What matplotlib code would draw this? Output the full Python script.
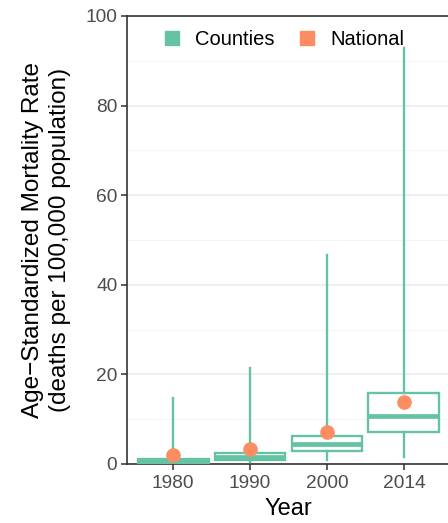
import matplotlib
matplotlib.use("Agg")
import matplotlib.pyplot as plt
from matplotlib.lines import Line2D

plt.rcParams['font.family'] = ['Liberation Sans', 'DejaVu Sans']

years = ["1980", "1990", "2000", "2014"]
whislo = [0.2, 0.5, 0.9, 1.6]
q1 = [0.3, 0.9, 2.9, 7.1]
med = [0.7, 1.6, 4.5, 10.7]
q3 = [1.2, 2.5, 6.2, 15.8]
whishi = [14.7, 21.4, 46.6, 92.9]
national = [2.0, 3.3, 7.1, 13.8]

green = "#66c2a5"
orange = "#fc8d62"

fig = plt.figure(figsize=(4.48, 5.23), dpi=100)
ax = fig.add_axes([127/448, 59/523, 323/448, 448/523])

stats = []
for i, y in enumerate(years):
    stats.append(dict(label=y, whislo=whislo[i], q1=q1[i], med=med[i], q3=q3[i],
                      whishi=whishi[i], fliers=[]))
pos = list(range(1, len(years) + 1))
ax.bxp(stats, positions=pos, widths=0.92, showcaps=False, patch_artist=True,
       boxprops=dict(facecolor="white", edgecolor=green, linewidth=1.7),
       whiskerprops=dict(color=green, linewidth=1.7),
       medianprops=dict(color=green, linewidth=3.4, solid_capstyle="butt"),
       zorder=3)
ax.plot(pos, national, "o", color=orange, markersize=9.5, zorder=4, linestyle="none")

ax.set_xlim(0.4, 4.6)
ax.set_ylim(0, 100)
ax.set_yticks([0, 20, 40, 60, 80, 100])
ax.set_yticks([10, 30, 50, 70, 90], minor=True)
ax.set_xticks(pos)
ax.set_xticklabels(years)
ax.grid(axis="y", which="major", color="#ebebeb", linewidth=1.1, zorder=0)
ax.grid(axis="y", which="minor", color="#f3f3f3", linewidth=0.6, zorder=0)
ax.set_axisbelow(True)
ax.tick_params(axis="both", which="major", length=4, width=1.1, color="#333333",
               labelsize=13.8, labelcolor="#4d4d4d", pad=3)
ax.tick_params(axis="x", which="major", pad=4)
ax.tick_params(axis="y", which="minor", length=0)
for s in ["left", "bottom", "top"]:
    ax.spines[s].set_color("#333333")
    ax.spines[s].set_linewidth(1.2)
ax.spines["right"].set_visible(False)

ax.set_xlabel("Year", fontsize=17, labelpad=4)
ax.set_ylabel("Age\u2212Standardized Mortality Rate\n(deaths per 100,000 population)",
              fontsize=17.5, linespacing=1.3)
ax.yaxis.set_label_coords((71 - 127) / 323, 0.5)

handles = [Line2D([], [], marker="s", color=green, linestyle="none", markersize=9.4),
           Line2D([], [], marker="s", color=orange, linestyle="none", markersize=9.4)]
ax.legend(handles, ["Counties", "National"], loc="upper center", bbox_to_anchor=(0.48, 1.0),
          ncol=2, frameon=False, fontsize=14.5, handletextpad=0.55, columnspacing=1.0,
          borderaxespad=0.3, handlelength=1.2)

fig.savefig("out.png", dpi=100)
